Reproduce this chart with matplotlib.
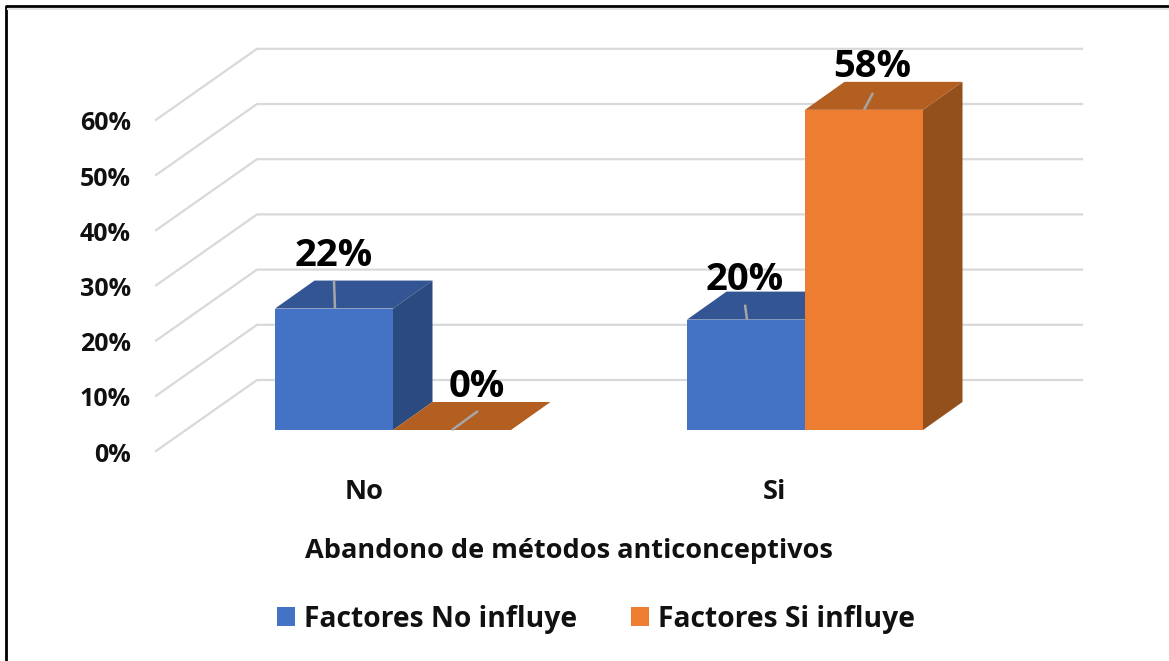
import matplotlib
matplotlib.use("Agg")
import matplotlib.pyplot as plt
from matplotlib.patches import Patch, Polygon

categories = ["No", "Si"]
series_names = ["Factores No influye", "Factores Si influye"]
no_influye = [22, 20]
si_influye = [0, 58]
value_ticks = [0, 10, 20, 30, 40, 50, 60]
axis_title = "Abandono de métodos anticonceptivos"

FONT = "Open Sans"
W, H = 1169, 661
PX_X = 412  # px per category
PX_Y = 5.52  # px per percent
X0, Y0 = 393, 430  # "No" centre and 0% on the bars' front plane
BAR_W = 118 / PX_X

# depth of a bar and of the floor, in data units
DX, DY = 39.5 / PX_X, 28 / PX_Y
FLOOR_FRONT = -21 / PX_Y
FLOOR_BACK = 50 / PX_Y

BLUE = ("#4472C4", "#335593", "#2A4A80")
ORANGE = ("#ED7D31", "#B35F22", "#94501C")

fig = plt.figure(figsize=(W / 100, H / 100), dpi=100)
ax = fig.add_axes([0, 0, 1, 1])
ax.set_xlim(-X0 / PX_X, (W - X0) / PX_X)
ax.set_ylim(-(H - Y0) / PX_Y, Y0 / PX_Y)
ax.axis("off")


def px_x(p):
    return (p - X0) / PX_X


def px_y(p):
    return (Y0 - p) / PX_Y


# frame of the picture, only top and left are in the image
ax.plot([px_x(5.5), px_x(5.5), px_x(W)], [px_y(H), px_y(6), px_y(6)],
        color="black", lw=2, solid_capstyle="butt", zorder=1)
ax.plot([px_x(8), px_x(W)], [px_y(9)] * 2, color="#e4e4e4", lw=1.5, zorder=1)

# walls
for v in value_ticks:
    back = v + FLOOR_BACK
    ax.plot([px_x(156), px_x(257), px_x(1082)], [v + FLOOR_FRONT, back, back],
            color="#d9d9d9", lw=1.6, zorder=1, solid_joinstyle="miter")
    ax.text(px_x(131), v + FLOOR_FRONT - 0.75, f"{v}%", ha="right", va="center",
            fontsize=18, fontweight="bold", family=FONT, color="#111111")


def draw_bar(left, value, colors, z):
    right = left + BAR_W
    ax.add_patch(Polygon([(left, 0), (right, 0), (right, value), (left, value)],
                         fc=colors[0], ec="none", zorder=z))
    ax.add_patch(Polygon([(left, value), (right, value), (right + DX, value + DY), (left + DX, value + DY)],
                         fc=colors[1], ec="none", zorder=z))
    ax.add_patch(Polygon([(right, 0), (right + DX, DY), (right + DX, value + DY), (right, value)],
                         fc=colors[2], ec="none", zorder=z))


def draw_label(left, value, text, lead, shift, z):
    mid = left + BAR_W / 2
    ax.plot([mid + lead[0] / PX_X, mid + lead[2] / PX_X],
            [value + lead[1] / PX_Y, value + lead[3] / PX_Y],
            color="#a6a6a6", lw=1.8, zorder=z, solid_capstyle="butt")
    ax.text(mid + shift[0] / PX_X, value + shift[1] / PX_Y, text, ha="center", va="center",
            fontsize=27.5, fontweight="bold", family=FONT, color="black", zorder=z + 1)


# (x0, y0, x1, y1) of the leader and label shift, px from the bar's top front edge
lead_a = [(1, 0, 0, 28), (1, 0, -1, 15)]
shift_a = [(0, 53), (-1, 40)]
lead_b = [(0, 0, 26, 19), (0, 0, 9, 17)]
shift_b = [(25, 43), (8, 43)]
cat_shift = [-29, -31]

for i in range(len(categories)):
    left_a = i - BAR_W
    draw_bar(left_a, no_influye[i], BLUE, 3)
    draw_bar(i, si_influye[i], ORANGE, 4)
    draw_label(left_a, no_influye[i], f"{no_influye[i]}%", lead_a[i], shift_a[i], 5)
    draw_label(i, si_influye[i], f"{si_influye[i]}%", lead_b[i], shift_b[i], 5)
    ax.text(i + cat_shift[i] / PX_X, px_y(492), categories[i], ha="center", va="center",
            fontsize=19.5, fontweight="bold", family=FONT, color="#111111")

ax.text(px_x(569), px_y(550.5), axis_title, ha="center", va="center",
        fontsize=19.5, fontweight="bold", family=FONT, color="#111111")

handles = [Patch(fc=BLUE[0], ec="none"), Patch(fc=ORANGE[0], ec="none")]
ax.legend(handles, series_names, loc="center", bbox_to_anchor=(596 / W, 1 - 619 / H),
          ncol=2, frameon=False, handlelength=0.65, handleheight=0.65, handletextpad=0.33,
          columnspacing=1.9, prop={"family": FONT, "weight": "bold", "size": 20.3},
          labelcolor="#111111")

fig.savefig("out.png", dpi=100)
